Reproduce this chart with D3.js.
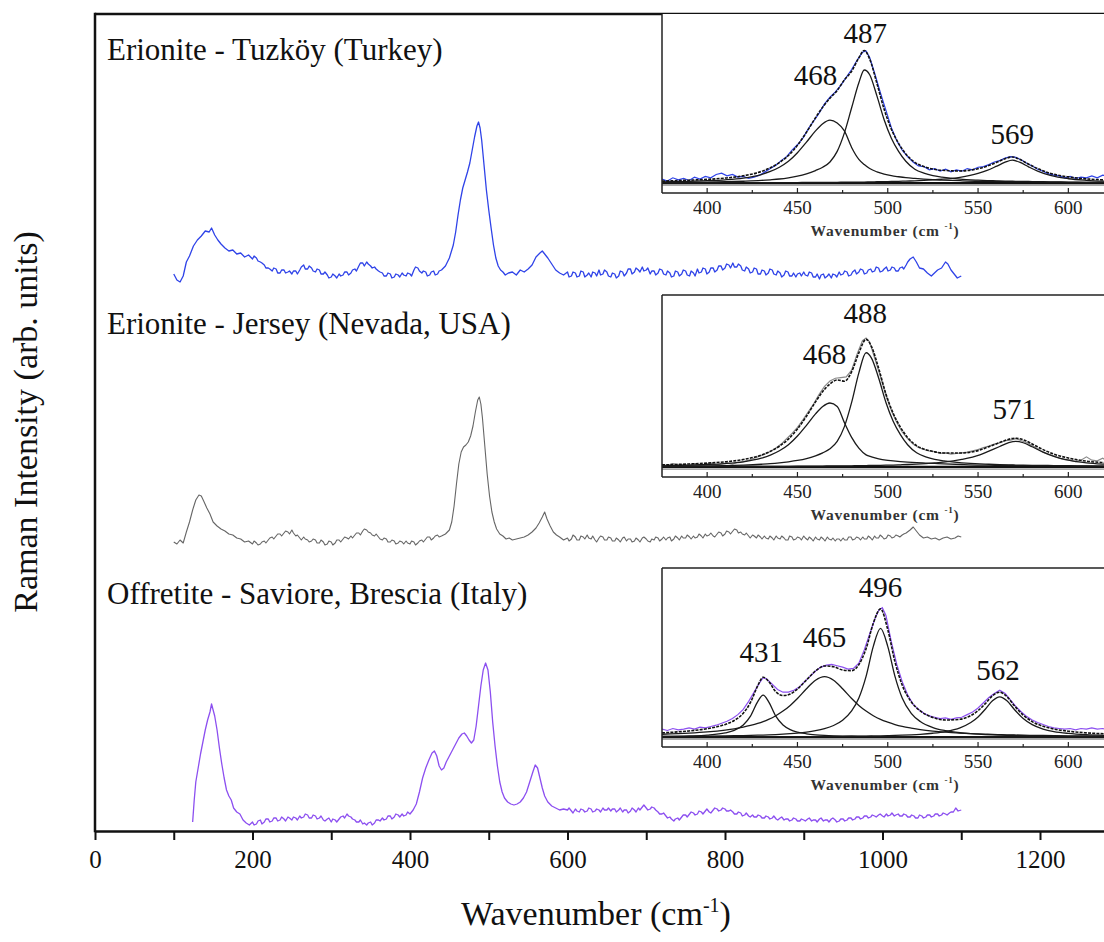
<!DOCTYPE html>
<html>
<head>
<meta charset="utf-8">
<script src="https://cdn.jsdelivr.net/npm/d3@7"></script>
<style>
  body { margin: 0; background: #fff; }
  svg { display: block; font-family: "Liberation Serif", "Times New Roman", serif; }
</style>
</head>
<body>
<div id="app"></div>
<script>
// ---- main spectra: [wavenumber, intensity (arb. units)], sorted in code ----
const tuzkoySpectrum = [
  [100,6],[104,3],[108,2],[112,5],[116,12],[120,15],[125,20],[130,23],[135,25],[140,27.5],[145,27],[148,29],[152,25.5],[156,23],[160,21],[165,19],[170,17.5],[175,18],[180,16],[185,16.5],[190,14.5],[195,15.5],[200,13.5],[205,14],[210,12],[215,10.5],[220,9],[225,7.5],[230,8.5],[235,6.5],[240,8],[245,7],[250,6],[255,7.5],[260,8],[265,10.5],[270,8.5],[275,9],[280,7],[285,8],[290,6],[295,5.5],[300,4.5],[305,5],[310,6],[315,5.5],[320,7],[325,6.5],[330,8.5],[335,10],[340,11.5],[345,12],[350,10],[355,9.5],[360,7.5],[365,6.5],[370,5],[375,6],[380,4.5],[385,5.5],[390,6.5],[395,5],[400,6],[405,8],[410,9],[415,6.5],[420,7],[425,5.5],[430,7.5],[435,6],[440,8],[445,10],[450,14],[455,20.5],[458,27],[461,35.5],[464,43],[467,49],[470,53],[473,57],[476,61.5],[479,68],[482,74.5],[485,80],[487,82],[489,79],[491,73],[494,60.5],[497,48],[500,38],[503,29],[506,20.5],[509,14],[512,10],[515,8],[518,7],[521,5.5],[525,6.5],[530,7],[535,5.5],[540,8],[545,7],[550,8.5],[555,10.5],[560,14.5],[565,16.5],[568,17.5],[571,16],[575,14],[580,11],[585,8],[590,6.5],[595,5.5],
  [600,7],[605,5],[610,6.5],[615,5],[620,7],[625,5.5],[630,4.5],[635,6.5],[640,8],[645,6],[650,7],[655,4.5],[660,6],[665,5],[670,7],[675,6.5],[680,8.5],[685,7],[690,8],[695,9.5],[700,8],[705,6],[710,7.5],[715,6.5],[720,8],[725,5.5],[730,6.5],[735,5],[740,7],[745,6],[750,7.5],[755,5],[760,6.5],[765,8.5],[770,7],[775,8.5],[780,7],[785,9],[790,8],[795,10],[800,9],[805,10.5],[810,11.5],[815,9.5],[820,10],[825,7.5],[830,8.5],[835,7],[840,8.5],[845,6],[850,7.5],[855,6.5],[860,8],[865,5.5],[870,6.5],[875,5.5],[880,7],[885,5],[890,4.5],[895,6.5],[900,7],[905,5],[910,6.5],[915,4.5],[920,3.5],[925,6],[930,5],[935,4],[940,5.5],[945,7],[950,6],[955,7],[960,5.5],[965,8],[970,7],[975,8],[980,6.5],[985,8.5],[990,7.5],[995,9],[1000,7.5],[1005,9.5],[1010,8],[1015,9],[1020,7.5],[1025,9.5],[1030,10.5],[1035,13.5],[1039,14.5],[1043,12],[1047,9],[1052,8.5],[1057,6.5],[1062,5],[1066,6.5],[1070,8],[1075,9],[1080,12],[1083,11],[1087,8],[1091,6],[1095,4],[1100,5],
  [202,15],[207,12.5],[212,11.5],[217,9],[222,8.5],[227,9],[232,6.5],[237,8],[242,6.5],[247,7.5],[252,7.5],[257,6],[262,9.5],[267,8.5],[272,10],[277,7.5],[282,8.5],[287,6],[292,7],[297,4],[302,6],[307,4],[312,5],[317,7],[322,5.5],[327,8],[332,7.5],[337,11.5],[342,10],[347,11],[352,9],[357,8.5],[362,7],[367,5],[372,6.5],[377,4],[382,6],[387,4.5],[392,5.5],[397,6.5],[402,5],[407,9.5],[412,7.5],[417,7.5],[422,5],[427,7],[432,5.5],[437,7.5],
  [602,4.5],[607,7],[612,4.5],[617,7.5],[622,4.5],[627,6.5],[632,7],[637,5],[642,5.5],[647,8],[652,5],[657,6.5],[662,4],[667,7.5],[672,5],[677,8.5],[682,6],[687,9],[692,7],[697,7.5],[702,9],[707,7.5],[712,5.5],[717,8.5],[722,6],[727,7.5],[732,4.5],[737,7.5],[742,5],[747,8],[752,5.5],[757,7.5],[762,5],[767,6.5],[772,9],[777,6],[782,9],[787,7],[792,10],[797,8],[802,11],[807,9],[812,9.5],[817,11],[822,8],[827,9.5],[832,6.5],[837,9],[842,6],[847,8],[852,5.5],[857,8.5],[862,6],[867,7.5],[872,4.5],[877,7.5],[882,5],[887,6.5],[892,6],[897,5],[902,5.5],[907,7],[912,4.5],[917,6],[922,5.5],[927,4],[932,6],[937,6],[942,4.5],[947,5.5],[952,7.5],[957,5],[962,7],[967,6],[972,8.5],[977,6],[982,8],[987,7],[992,9.5],[997,7],[1002,8.5],[1007,7.5],[1012,9.5],[1017,7.5],[1022,9],[1027,8.5],[1032,12]
];

const jerseySpectrum = [
  [100,4],[104,3],[108,5],[112,3.5],[116,9],[120,14],[124,20],[128,25],[132,27.5],[135,27],[138,24.5],[142,21],[146,18],[150,14],[155,12],[160,10.5],[165,9.5],[170,8],[175,7.5],[180,6],[185,5.5],[190,4],[195,4.5],[200,3],[205,3.5],[210,3],[215,4.5],[220,5],[225,6.5],[230,7],[235,8],[240,8.5],[245,9],[250,10],[255,7],[260,6],[265,6.5],[270,5],[275,4.5],[280,5],[285,3.5],[290,4],[295,3],[300,4],[305,3.5],[310,5],[315,5.5],[320,6],[325,7],[330,7.5],[335,8.5],[340,9.5],[345,10],[350,8.5],[355,7],[360,6.5],[365,5],[370,5.5],[375,4],[380,4.5],[385,3.5],[390,4],[395,4.5],[400,3],[405,4],[410,3.5],[415,5],[420,5.5],[425,6.5],[430,6],[435,7.5],[440,7],[445,8],[450,10],[453,14],[456,22],[459,33],[462,43],[465,49],[468,51.5],[471,52.5],[474,54],[477,57],[480,62],[483,69],[486,75],[488,76.5],[490,73],[492,66],[495,52],[498,38],[501,27],[504,19],[507,14],[510,10.5],[514,8],[518,7],[522,5.5],[526,6],[530,5],[535,5.5],[540,6],[545,6.5],[550,7.5],[555,9],[560,11],[564,13.5],[568,16.5],[571,19],[574,15.5],[578,12],[582,9],[586,7.5],[590,6.5],[595,5],
  [600,6],[605,5.5],[610,6.5],[615,5],[620,6.5],[625,7.5],[630,5.5],[635,5],[640,6],[645,6.5],[650,5],[655,6],[660,4.5],[665,5],[670,6],[675,4.5],[680,5.5],[685,4.5],[690,5],[695,6],[700,5.5],[705,4],[710,5],[715,6],[720,5.5],[725,5],[730,6.5],[735,5.5],[740,6],[745,7],[750,6],[755,6.5],[760,7],[765,6.5],[770,7],[775,8],[780,7.5],[785,7],[790,8],[795,8.5],[800,8],[805,9],[810,9.5],[815,10],[820,9],[825,7.5],[830,7],[835,7.5],[840,6],[845,6.5],[850,7],[855,5.5],[860,6],[865,7],[870,5.5],[875,6],[880,5],[885,6.5],[890,5.5],[895,6],[900,7],[905,5],[910,5.5],[915,6.5],[920,5],[925,5.5],[930,6.5],[935,5],[940,4.5],[945,5.5],[950,6],[955,5],[960,6.5],[965,5.5],[970,6],[975,6.5],[980,5.5],[985,6],[990,7],[995,6],[1000,6.5],[1005,6],[1010,7],[1015,6.5],[1020,7],[1025,7.5],[1030,8.5],[1035,10],[1039,11.5],[1043,9.5],[1047,7.5],[1052,6],[1057,6.5],[1062,5.5],[1067,6],[1072,5],[1077,6],[1082,6.5],[1087,5.5],[1092,6],[1096,7],[1100,6.5],
  [202,4.5],[207,2.5],[212,4],[217,3.5],[222,6],[227,5.5],[232,8],[237,7],[242,9.5],[247,8],[252,8.5],[257,7.5],[262,5],[267,5.5],[272,4],[277,5.5],[282,3.5],[287,5],[292,2.5],[297,4.5],[302,2.5],[307,5],[312,4],[317,6.5],[322,5.5],[327,6],[332,8.5],[337,7.5],[342,10.5],[347,9],[352,7.5],[357,8],[362,5.5],[367,6],[372,4],[377,5],[382,3],[387,4.5],[392,3],[397,3.5],[402,4.5],[407,2.5],[412,4.5],[417,4],[422,6.5],[427,5],[432,7],[437,6.5],
  [602,4.5],[607,7.5],[612,5],[617,7],[622,5.5],[627,6],[632,7],[637,4],[642,7],[647,5],[652,6.5],[657,4.5],[662,6],[667,4],[672,6.5],[677,5.5],[682,4],[687,6],[692,4],[697,6.5],[702,4.5],[707,5.5],[712,6.5],[717,4.5],[722,6.5],[727,6],[732,4.5],[737,7],[742,5],[747,6],[752,7.5],[757,5.5],[762,6],[767,8],[772,6],[777,7],[782,8.5],[787,6.5],[792,9],[797,7],[802,9.5],[807,8],[812,10.5],[817,8.5],[822,8],[827,8.5],[832,6],[837,7],[842,7.5],[847,5.5],[852,6],[857,7],[862,5],[867,6],[872,7],[877,5],[882,7],[887,5],[892,6.5],[897,5],[902,6],[907,6.5],[912,4.5],[917,5.5],[922,6.5],[927,4.5],[932,5.5],[937,6],[942,5.5],[947,4.5],[952,5],[957,6.5],[962,5],[967,6.5],[972,5],[977,5.5],[982,7],[987,5],[992,6],[997,7.5],[1002,5.5],[1007,7.5],[1012,6],[1017,7.5],[1022,6.5],[1027,8]
];

const offretiteSpectrum = [
  [124,4],[126,15],[128,24],[131,31],[134,38],[137,44],[140,50],[143,55],[146,59],[148,63],[150,60],[152,57],[155,50],[158,41],[161,33],[164,26],[167,20],[170,17],[173,15],[176,11],[180,9],[184,8],[188,5],[192,3.5],[196,2.5],[200,4],[205,3],[210,5],[215,4],[220,5.5],[225,4.5],[230,6],[235,5],[240,5.5],[245,6.5],[250,5],[255,6],[260,7],[265,6.5],[270,7.5],[275,6],[280,7],[285,6],[290,5],[295,5.5],[300,4],[305,5],[310,5.5],[315,7],[320,8],[325,6.5],[330,5],[335,4],[340,3],[345,2.5],[350,4],[355,3.5],[360,5],[365,6],[370,5.5],[375,7],[380,6.5],[385,7.5],[390,8],[395,7.5],[400,8],[404,10],[408,13],[412,19],[416,26],[420,31],[424,35],[428,38.5],[431,39.5],[434,37],[437,32],[440,30],[443,31],[446,34],[450,37],[454,40],[458,43],[462,46],[466,48],[469,48.5],[472,47],[475,45],[478,43.5],[481,45],[484,52],[487,62],[490,72],[493,80],[496,83.5],[499,80],[502,69],[505,54],[508,42],[511,32],[514,24],[517,19],[520,16],[524,14],[528,13],[532,12.5],[536,13],[540,14],[544,16],[548,19],[552,24],[556,29],[559,32.5],[562,31],[565,26],[568,21],[571,17],[575,14],[580,12],[585,11],[590,10],[595,10.5],
  [600,10],[605,9.5],[610,10.5],[615,9],[620,10],[625,9.5],[630,10.5],[635,9.5],[640,10],[645,11],[650,10],[655,9.5],[660,10.5],[665,10],[670,9],[675,10],[680,9.5],[685,10],[690,11],[695,11.5],[700,11],[705,10.5],[710,11],[715,9],[720,8],[725,7],[730,6.5],[735,4.5],[740,6],[745,6.5],[750,7.5],[755,8],[760,8.5],[765,8],[770,9],[775,9.5],[780,9],[785,10],[790,10.5],[795,10],[800,10.5],[805,9.5],[810,9],[815,8],[820,8.5],[825,7.5],[830,7],[835,7.5],[840,6.5],[845,7],[850,6],[855,6.5],[860,6],[865,5.5],[870,6],[875,5],[880,5.5],[885,5],[890,5.5],[895,4.5],[900,5],[905,5.5],[910,4.5],[915,5],[920,5.5],[925,4.5],[930,5],[935,5.5],[940,5],[945,4.5],[950,5.5],[955,5],[960,6],[965,5.5],[970,6.5],[975,6],[980,7],[985,6.5],[990,7],[995,7.5],[1000,7],[1005,8],[1010,7.5],[1015,7],[1020,8],[1025,7],[1030,7.5],[1035,6.5],[1040,7],[1045,6],[1050,7],[1055,6.5],[1060,7.5],[1065,7],[1070,8],[1075,7.5],[1080,8],[1085,8.5],[1090,9],[1093,11],[1096,9.5],[1100,10],
  [202,2.5],[207,4.5],[212,3],[217,5.5],[222,4],[227,6],[232,4.5],[237,6.5],[242,4.5],[247,6],[252,6.5],[257,5],[262,6],[267,8],[272,6],[277,7.5],[282,5.5],[287,7],[292,4.5],[297,6],[302,5.5],[307,4],[312,6.5],[317,6],[322,7],[327,5.5],[332,4],[337,5],[342,3.5],[347,3.5],[352,2.5],[357,5],[362,4.5],[367,5],[372,7],[377,5.5],[382,8],[387,6.5],[392,7],[397,9],
  [602,11],[607,8.5],[612,9.5],[617,10.5],[622,9],[627,11],[632,9],[637,10.5],[642,9],[647,10],[652,11],[657,10.5],[662,9],[667,11],[672,10],[677,8.5],[682,11],[687,9],[692,10],[697,12.5],[702,10],[707,11.5],[712,10],[717,8],[722,8.5],[727,6],[732,5.5],[737,5.5],[742,5],[747,7.5],[752,6.5],[757,9],[762,7.5],[767,9.5],[772,8],[777,10.5],[782,8.5],[787,11],[792,9.5],[797,11],[802,9.5],[807,10],[812,8],[817,9],[822,7],[827,8.5],[832,6.5],[837,6.5],[842,7.5],[847,6],[852,7],[857,5.5],[862,7],[867,5],[872,6.5],[877,5.5],[882,4.5],[887,6],[892,4.5],[897,5.5],[902,4.5],[907,6],[912,5],[917,4],[922,6],[927,5],[932,4],[937,6],[942,4],[947,5.5],[952,4.5],[957,6],[962,5],[967,6.5],[972,5.5],[977,7],[982,6],[987,7.5],[992,6.5],[997,8],[1002,6.5],[1007,7],[1012,8.5],[1017,7.5],[1022,7],[1027,8],[1032,6.5],[1037,7.5],[1042,6],[1047,7.5],[1052,6],[1057,7.5],[1062,6.5],[1067,8],[1072,7],[1077,8.5],[1082,7.5],[1087,9]
];

const spectrumNames = ["Erionite - Tuzköy (Turkey)", "Erionite - Jersey (Nevada, USA)", "Offretite - Saviore, Brescia (Italy)"];
const spectrumColors = ["#2f43e8", "#666666", "#8c4ff0"];
const stackOffsets = [272, 140, 0];

const xTicks = [0, 100, 200, 300, 400, 500, 600, 700, 800, 900, 1000, 1100, 1200, 1300];
const xTickLabels = [0, 200, 400, 600, 800, 1000, 1200];

// ---- inset fits (components share one grid per inset) ----
const tuzkoyGrid = [375,390,400,410,420,430,435,440,445,450,455,460,464,468,472,476,480,484,487,490,494,498,502,506,510,515,520,525,530,540,550,555,560,565,569,573,578,583,590,600,610,620,630];
const tuzkoyFit468 = [0.8,1.3,1.8,2.5,3.8,6.5,8.8,12,16.5,23,31,39.5,45,47.7,45.5,39.5,27,18,14,11,8.5,6.8,5.6,4.8,4.1,3.5,3,2.6,2.3,1.8,1.4,1.3,1.2,1.1,1,0.9,0.8,0.8,0.7,0.6,0.5,0.5,0.4];
const tuzkoyFit487 = [0.5,0.7,0.8,1,1.4,2,2.5,3.1,4,5.2,7,9.5,12,16,24,38,57,76,85.6,82,66,48,34,24,16.5,10.5,7.5,5.6,4.5,3,2.2,1.9,1.7,1.5,1.4,1.3,1.2,1.1,0.9,0.8,0.6,0.5,0.5];
const tuzkoyFit569 = [0.2,0.2,0.2,0.3,0.3,0.3,0.3,0.4,0.4,0.4,0.5,0.5,0.5,0.6,0.6,0.7,0.7,0.8,0.8,0.9,1,1.1,1.2,1.3,1.5,1.7,2,2.4,2.9,4.4,7.3,9.6,12.6,15.8,17.4,15.8,12.3,9.1,5.8,3.3,2.1,1.4,1];
const tuzkoyMeasured = [
  [375,3],[378,1.5],[381,4],[384,2.5],[387,3.5],[390,2],[393,4.5],[396,3],[399,5],[402,4],[405,6.5],[408,7.5],[411,5.5],[414,6.5],[417,4.5],[420,5],[423,3.5],[426,4.5],[429,6],[432,8.5],[435,11],[438,13.5],[441,17],[444,20],[447,25],[450,29],[453,34],[456,41],[459,47],[462,53],[465,60],[468,65],[471,69],[474,74],[477,80],[480,86],[483,93],[486,99],[488,100],[490,95],[493,82],[496,68],[499,55],[502,42],[505,32],[508,25],[511,20],[514,16],[517,13],[520,12.5],[523,10],[526,11],[529,9],[532,10.5],[535,8.5],[538,10],[541,9],[544,11],[547,10],[550,12],[553,12.5],[556,14],[559,16],[562,17],[565,19],[568,20],[571,19.5],[574,17.5],[577,15],[580,13],[583,10.5],[586,9],[589,7],[592,6],[595,5.5],[598,4],[601,5],[604,3.5],[607,4.5],[610,4],[613,5.5],[616,4],[619,6],[622,5],[625,4],[628,5.5],[631,4.5]
];
const tuzkoyPeaks = [487, 468, 569];

const jerseyGrid = [375,390,400,410,420,430,435,440,445,450,455,460,464,468,472,476,480,484,488,491,495,499,503,507,511,516,521,526,531,541,551,556,562,567,571,575,580,586,592,600,610,620,630];
const jerseyFit468 = [0.8,1.3,1.8,2.5,3.8,6.5,8.8,12,16.5,23,31,39.5,45,47.6,45,33,22,14,9,7.5,6,5,4.5,4,3.6,3.2,2.9,2.6,2.3,1.8,1.4,1.3,1.2,1.1,1,0.95,0.9,0.8,0.75,0.7,0.6,0.55,0.5];
const jerseyFit488 = [0.5,0.7,0.8,1,1.4,2,2.4,3,3.8,4.8,6.2,8.3,10.5,13.5,19,30,48,70,85,81,66,48,34,24,16.5,10.5,7.5,5.6,4.5,3,2.2,2,1.7,1.5,1.4,1.3,1.2,1.1,1,0.9,0.7,0.6,0.5];
const jerseyFit571 = [0.2,0.2,0.25,0.3,0.3,0.35,0.4,0.4,0.45,0.5,0.55,0.6,0.65,0.7,0.75,0.8,0.85,0.9,1,1.1,1.2,1.3,1.4,1.6,1.8,2.1,2.5,3,3.6,5.6,9,11.8,15.2,18,19,18,15,11,7.8,5,3,2,1.4];
const jerseyMeasured = [
  [375,2],[378,1],[381,2.5],[384,1.5],[387,2],[390,1],[393,2.5],[396,1.5],[399,2],[402,3],[405,1.5],[408,2.5],[411,3],[414,2],[417,3.5],[420,4],[423,5],[426,6.5],[429,8],[432,9.5],[435,11.5],[438,14],[441,17],[444,21],[447,25],[450,29.5],[453,35],[456,41],[459,47],[462,54],[465,60],[468,64],[471,66],[474,66.5],[477,67],[480,72],[483,84],[486,94],[488,96],[490,93],[493,80],[496,67],[499,53],[502,42],[505,33],[508,26],[511,21],[514,17],[517,14.5],[520,13],[523,12],[526,11.5],[529,10],[532,10.5],[535,9.5],[538,10],[541,10.5],[544,11],[547,12],[550,13],[553,14.5],[556,15.5],[559,17],[562,18],[565,19.5],[568,20],[571,21],[574,19.5],[577,18],[580,16],[583,13.5],[586,11],[589,9.5],[592,8],[595,6.5],[598,5.5],[601,5],[604,4],[607,5],[610,7.5],[613,5],[616,4.5],[619,6.5],[622,4],[625,3.5],[628,5],[631,4]
];
const jerseyPeaks = [488, 468, 571];

const offretiteGrid = [375,390,400,410,415,420,424,428,431,434,438,442,446,450,455,460,465,470,475,480,484,488,492,496,500,504,508,513,518,525,532,540,546,550,554,558,562,566,570,575,580,586,592,600,610,620,630];
const offretiteFit431 = [0.49,0.9,1.54,3.2,5.1,9.2,15.9,26.9,31.8,26.9,15.9,9.2,5.7,3.8,2.5,1.75,1.29,0.99,0.79,0.64,0.55,0.48,0.42,0.37,0.33,0.29,0.26,0.23,0.2,0.17,0.15,0.13,0.12,0.11,0.1,0.1,0.09,0.08,0.08,0.07,0.07,0.07,0.06,0.06,0.05,0.05,0.04];
const offretiteFit465 = [2.15,3.03,3.95,5.34,6.3,7.54,8.8,10.3,11.7,13.4,16.2,19.7,24,29.2,36.6,43,45.7,43,36.6,29.2,24,19.7,16.2,13.4,11.3,9.5,8.1,6.8,5.7,4.57,3.74,3.03,2.6,2.4,2.2,2,1.86,1.72,1.6,1.46,1.34,1.2,1.1,0.98,0.85,0.75,0.66];
const offretiteFit496 = [0.45,0.59,0.72,0.89,1,1.14,1.27,1.42,1.55,1.7,1.94,2.22,2.58,3.04,3.78,4.84,6.4,8.8,12.8,19.8,29.6,46,68.7,82.3,68.7,46,29.6,18,11.8,7.2,4.84,3.3,2.58,2.22,1.94,1.7,1.5,1.33,1.2,1.05,0.93,0.81,0.72,0.61,0.51,0.43,0.37];
const offretiteFit562 = [0.13,0.15,0.17,0.19,0.2,0.22,0.23,0.24,0.25,0.27,0.28,0.3,0.32,0.35,0.38,0.42,0.46,0.51,0.57,0.64,0.71,0.78,0.88,0.98,1.1,1.24,1.43,1.72,2.1,2.9,4.2,7,11,15.25,21.1,27.5,30.5,27.5,21.1,14.1,9.4,6.1,4.2,2.8,1.8,1.25,0.92];
const offretiteMeasured = [
  [375,6],[378,5],[381,6.5],[384,5.5],[387,6],[390,7],[393,6],[396,7.5],[399,7],[402,8],[405,9],[408,10.5],[411,12],[414,14],[417,17],[420,21],[423,27],[426,34],[429,41],[431,45],[433,44],[436,40],[439,36],[442,34],[445,34],[448,35.5],[451,38],[454,42],[457,46],[460,50],[463,53],[466,54.5],[469,55],[472,54],[475,53],[478,51.5],[481,52],[484,56],[487,66],[490,78],[493,90],[495,96],[497,98],[499,92],[502,72],[505,55],[508,42],[511,32],[514,25],[517,21],[520,18],[523,16],[526,15],[529,14],[532,14.5],[535,13.5],[538,14.5],[541,15],[544,17],[547,19],[550,22],[553,26],[556,30],[559,33],[562,35.5],[565,33],[568,28],[571,23],[574,19],[577,15.5],[580,13],[583,11],[586,9.5],[589,8],[592,7],[595,6.5],[598,6],[601,6.5],[604,5.5],[607,6.5],[610,6],[613,7],[616,6],[619,6.5],[622,5.5],[625,7],[628,6],[631,6.5]
];
const offretitePeaks = [431, 465, 496, 562];

const insetMajorTicks = [400, 450, 500, 550, 600];
const insetMinorTicks = [425, 475, 525, 575, 625];

// ---- layout ----
const W = 1104, H = 942;
const plotLeft = 95, plotTop = 14, plotBottom = 831;

const svg = d3.select("#app")
  .append("svg")
  .attr("width", W)
  .attr("height", H);

svg.append("rect").attr("width", W).attr("height", H).attr("fill", "#fff");

const x = d3.scaleLinear().domain([0, 1300]).range([plotLeft, plotLeft + 1300 * 0.7875]);
const y = d3.scaleLinear().domain([0, 408]).range([830, 14]);

// frame
svg.append("line")
  .attr("x1", plotLeft).attr("x2", W + 5)
  .attr("y1", plotTop).attr("y2", plotTop)
  .attr("stroke", "#111").attr("stroke-width", 2.5);
svg.append("line")
  .attr("x1", plotLeft).attr("x2", plotLeft)
  .attr("y1", plotTop - 1.2).attr("y2", plotBottom + 1.2)
  .attr("stroke", "#111").attr("stroke-width", 2.5);

const xAxis = svg.append("g")
  .attr("transform", `translate(0,${plotBottom})`)
  .call(d3.axisBottom(x)
    .tickValues(xTicks)
    .tickSize(9)
    .tickSizeOuter(0)
    .tickPadding(10)
    .tickFormat(d => xTickLabels.includes(d) ? d : ""));
xAxis.select(".domain").attr("stroke", "#111").attr("stroke-width", 2.5);
xAxis.selectAll(".tick line").attr("stroke", "#111").attr("stroke-width", 2);
xAxis.selectAll(".tick text")
  .attr("fill", "#111")
  .style("font-family", '"Liberation Serif", "Times New Roman", serif')
  .style("font-size", "25px");

// axis titles
const xTitle = svg.append("text")
  .attr("x", 596).attr("y", 925)
  .attr("text-anchor", "middle")
  .style("font-size", "34px").attr("fill", "#111");
xTitle.append("tspan").text("Wavenumber (cm");
xTitle.append("tspan").attr("dy", -13).style("font-size", "20px").text("-1");
xTitle.append("tspan").attr("dy", 13).text(")");

svg.append("text")
  .attr("transform", "translate(37,422) rotate(-90)")
  .attr("text-anchor", "middle")
  .style("font-size", "34px").attr("fill", "#111")
  .text("Raman Intensity (arb. units)");

// main spectra
const spectra = [tuzkoySpectrum, jerseySpectrum, offretiteSpectrum];
const labelBaselines = [60, 334, 604];

spectra.forEach((data, i) => {
  const line = d3.line()
    .x(d => x(d[0]))
    .y(d => y(d[1] + stackOffsets[i]));
  svg.append("path")
    .datum(d3.sort(data, d => d[0]))
    .attr("d", line)
    .attr("fill", "none")
    .attr("stroke", spectrumColors[i])
    .attr("stroke-width", i === 1 ? 1.1 : 1.3)
    .attr("stroke-linejoin", "round");

  svg.append("text")
    .attr("x", 107).attr("y", labelBaselines[i])
    .style("font-size", "31px").attr("fill", "#111")
    .text(spectrumNames[i]);
});

// insets
const insets = [
  { top: 14, axis: 193, color: spectrumColors[0], grid: tuzkoyGrid,
    comps: [tuzkoyFit468, tuzkoyFit487, tuzkoyFit569], measured: tuzkoyMeasured,
    peaks: tuzkoyPeaks, labelAt: [[487.5, 106], [460, 74], [569, 29.6]] },
  { top: 295, axis: 477, color: "#8a8a8a", grid: jerseyGrid,
    comps: [jerseyFit468, jerseyFit488, jerseyFit571], measured: jerseyMeasured,
    peaks: jerseyPeaks, labelAt: [[487.5, 107], [465, 77], [570, 36]] },
  { top: 568, axis: 747, color: spectrumColors[2], grid: offretiteGrid,
    comps: [offretiteFit431, offretiteFit465, offretiteFit496, offretiteFit562], measured: offretiteMeasured,
    peaks: offretitePeaks, labelAt: [[430, 57], [465, 68], [496, 106], [561, 43]] }
];

const insetLeft = 662;

insets.forEach((ins, k) => {
  const ix = d3.scaleLinear().domain([375, 630]).range([insetLeft, insetLeft + 255 * 1.806]);
  const iy = d3.scaleLinear().domain([-7.5, 128]).range([ins.axis, ins.top]);
  const g = svg.append("g");

  g.append("rect")
    .attr("x", insetLeft).attr("y", ins.top)
    .attr("width", W - insetLeft + 5).attr("height", ins.axis - ins.top)
    .attr("fill", "#fff");

  const clipId = "clip" + k;
  svg.append("clipPath").attr("id", clipId)
    .append("rect")
    .attr("x", insetLeft).attr("y", ins.top)
    .attr("width", W - insetLeft + 5).attr("height", ins.axis - ins.top);

  const plot = g.append("g").attr("clip-path", `url(#${clipId})`);

  // fitted baseline
  plot.append("line")
    .attr("x1", ix(375)).attr("x2", ix(630))
    .attr("y1", iy(-1.6)).attr("y2", iy(-1.6))
    .attr("stroke", "#aaa").attr("stroke-width", 1.6);
  plot.append("line")
    .attr("x1", ix(375)).attr("x2", ix(630))
    .attr("y1", iy(0)).attr("y2", iy(0))
    .attr("stroke", "#111").attr("stroke-width", 2.2);

  const line = d3.line().x(d => ix(d[0])).y(d => iy(d[1])).curve(d3.curveMonotoneX);

  plot.append("path")
    .datum(ins.measured)
    .attr("d", d3.line().x(d => ix(d[0])).y(d => iy(d[1])))
    .attr("fill", "none")
    .attr("stroke", ins.color)
    .attr("stroke-width", 1.2);

  ins.comps.forEach(c => {
    plot.append("path")
      .datum(ins.grid.map((w, j) => [w, c[j]]))
      .attr("d", line)
      .attr("fill", "none")
      .attr("stroke", "#1a1a1a")
      .attr("stroke-width", 1.3);
  });

  const total = ins.grid.map((w, j) => [w, d3.sum(ins.comps, c => c[j])]);
  plot.append("path")
    .datum(total)
    .attr("d", line)
    .attr("fill", "none")
    .attr("stroke", "#111")
    .attr("stroke-width", 1.6)
    .attr("stroke-dasharray", "3 1.2");

  // frame and axis
  if (k > 0) {
    g.append("line")
      .attr("x1", insetLeft).attr("x2", W + 5)
      .attr("y1", ins.top).attr("y2", ins.top)
      .attr("stroke", "#222").attr("stroke-width", 1.5);
  }
  g.append("line")
    .attr("x1", insetLeft).attr("x2", insetLeft)
    .attr("y1", ins.top).attr("y2", ins.axis)
    .attr("stroke", "#222").attr("stroke-width", 1.5);
  g.append("line")
    .attr("x1", insetLeft).attr("x2", W + 5)
    .attr("y1", ins.axis).attr("y2", ins.axis)
    .attr("stroke", "#222").attr("stroke-width", 1.5);

  g.selectAll(".maj").data(insetMajorTicks).join("line")
    .attr("x1", d => ix(d)).attr("x2", d => ix(d))
    .attr("y1", ins.axis).attr("y2", ins.axis - 5)
    .attr("stroke", "#222").attr("stroke-width", 1.2);
  g.selectAll(".min").data(insetMinorTicks).join("line")
    .attr("x1", d => ix(d)).attr("x2", d => ix(d))
    .attr("y1", ins.axis).attr("y2", ins.axis - 3)
    .attr("stroke", "#222").attr("stroke-width", 1.2);

  g.selectAll(".tl").data(insetMajorTicks).join("text")
    .attr("x", d => ix(d)).attr("y", ins.axis + 21)
    .attr("text-anchor", "middle")
    .style("font-size", "19px").attr("fill", "#222")
    .text(d => d);

  const t = g.append("text")
    .attr("x", 885).attr("y", ins.axis + 43)
    .attr("text-anchor", "middle")
    .style("font-size", "15.5px").style("font-weight", "bold")
    .style("letter-spacing", "0.8px").attr("fill", "#333");
  t.append("tspan").text("Wavenumber (cm ");
  t.append("tspan").attr("dy", -7).style("font-size", "9px").text("-1");
  t.append("tspan").attr("dy", 7).text(")");

  g.selectAll(".pk").data(ins.peaks).join("text")
    .attr("x", (d, j) => ix(ins.labelAt[j][0]))
    .attr("y", (d, j) => iy(ins.labelAt[j][1]))
    .attr("text-anchor", "middle")
    .style("font-size", "29px").attr("fill", "#111")
    .text(d => d);
});
</script>
</body>
</html>
